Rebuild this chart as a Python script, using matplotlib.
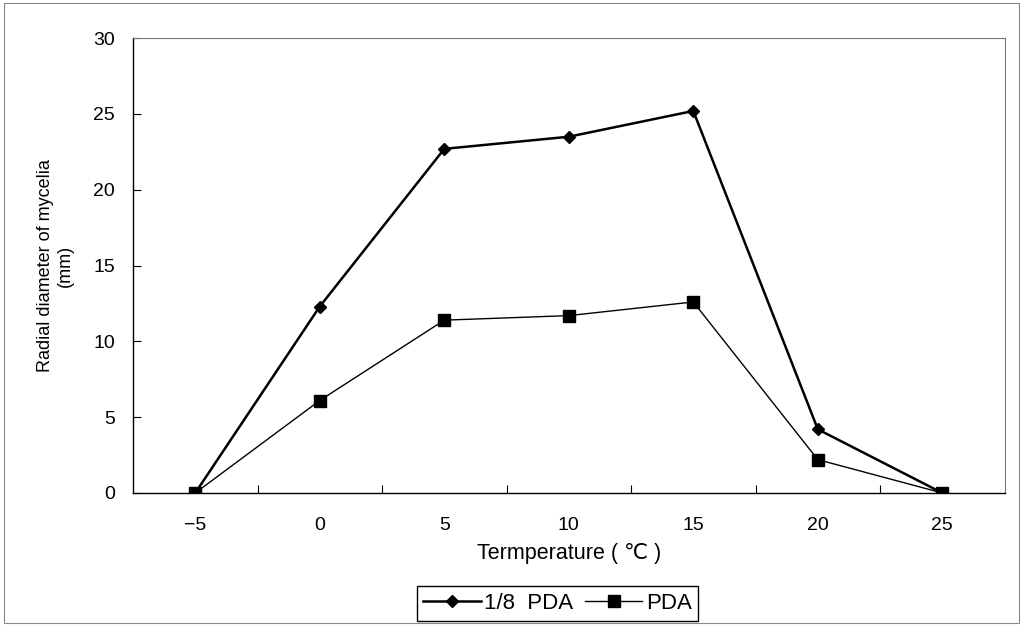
import matplotlib.pyplot as plt
import numpy as np

plt.rcParams["font.family"] = ["Liberation Sans", "DejaVu Sans"]

temperatures = ["\u22125", "0", "5", "10", "15", "20", "25"]
pda_eighth = [0.0, 12.3, 22.7, 23.5, 25.2, 4.2, 0.0]
pda_full = [0.0, 6.1, 11.4, 11.7, 12.6, 2.2, 0.0]

x = np.arange(len(temperatures))

fig = plt.figure(figsize=(10.23, 6.26), dpi=100)
ax = fig.add_axes([0.130, 0.2125, 0.852, 0.7265])

ax.plot(x, pda_eighth, color="black", linewidth=1.8, marker="D",
        markersize=6.5, label="1/8  PDA", zorder=3)
ax.plot(x, pda_full, color="black", linewidth=1.0, marker="s",
        markersize=8, label="PDA", zorder=3)

# .. Category axis: ticks between categories, labels at categories.
ax.set_xlim(-0.5, len(temperatures) - 0.5)
ax.set_xticks(x[:-1] + 0.5)
ax.set_xticklabels([])
ax.set_xticks(x, minor=True)
ax.tick_params(axis="x", which="major", direction="in", length=6)
ax.set_xticklabels(temperatures, minor=True)
ax.tick_params(axis="x", which="minor", length=0, pad=17, labelsize=14)

ax.set_ylim(0, 30)
ax.set_yticks(np.arange(0, 31, 5))
ax.tick_params(axis="y", direction="in", length=6, pad=13, labelsize=14)

for side in ["top", "right"]:
    ax.spines[side].set_color("#777777")
    ax.spines[side].set_linewidth(0.8)
    ax.spines[side].set_linestyle((0, (2, 1)))
for side in ["left", "bottom"]:
    ax.spines[side].set_linewidth(1.0)

ax.set_xlabel("Termperature ( ℃ )", fontsize=15.5, labelpad=7)
ax.set_ylabel("Radial diameter of mycelia\n(mm)", fontsize=13, labelpad=14)

fig.legend(loc="center", bbox_to_anchor=(0.545, 0.036), ncol=2,
           fancybox=False, edgecolor="black", fontsize=16,
           handlelength=2.6, columnspacing=0.5, handletextpad=0.15,
           borderpad=0.3, framealpha=1)

# .. Outer frame of the scanned figure.
fig.patches.append(plt.Rectangle((0.004, 0.004), 0.992, 0.992,
                                 transform=fig.transFigure, fill=False,
                                 edgecolor="#888888", linewidth=0.8))

fig.savefig("out.png", dpi=100)
